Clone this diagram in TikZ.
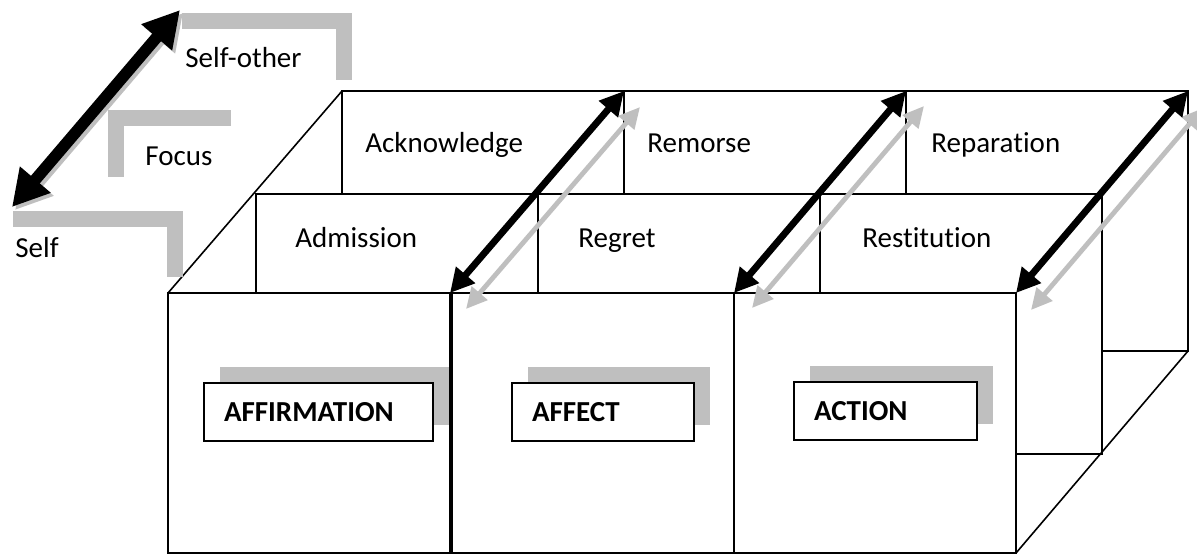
\documentclass[tikz,border=0pt]{standalone}
\usepackage{fontspec}
\setmainfont{Carlito}[Ligatures=NoCommon]
\usetikzlibrary{arrows.meta, shadows}

\definecolor{shadowtone}{RGB}{191,191,191}

\begin{document}
\begin{tikzpicture}[x=0.5pt,y=-0.5pt]
\tikzset{
cell/.style={draw, fill=white, line width=1pt, minimum width=141pt, minimum height=130pt, inner sep=0pt, outer sep=0pt, anchor=north west},
word/.style={anchor=base west, inner sep=0pt},
tag/.style={draw, fill=white, line width=1pt, anchor=west, inner xsep=10pt, minimum height=29pt, text width=#1, align=left, font=\fontsize{14.5}{17}\selectfont\bfseries, drop shadow={shadow xshift=8pt, shadow yshift=8pt, fill=shadowtone, opacity=1}},
link/.style={{Triangle[length=12pt,width=12pt]}-{Triangle[length=12pt,width=12pt]}, line width=3.4pt},
echo/.style={{Triangle[length=10.5pt,width=10pt]}-{Triangle[length=10.5pt,width=10pt]}, line width=2.4pt, shadowtone},
focusarrow/.style={{Triangle[length=18pt,width=19pt]}-{Triangle[length=18pt,width=19pt]}, line width=5.8pt},
bracket/.style={shadowtone, line width=8pt},
every node/.style={font=\fontsize{14.5}{17}\selectfont}
}
\useasboundingbox (0,0) rectangle (1197,554);

	% back row
	\node[cell] (b1) at (342,91) {};
	\node[cell] (b2) at (624,91) {};
	\node[cell] (b3) at (906,91) {};

	% middle row
	\node[cell] (m1) at (256,194) {};
	\node[cell] (m2) at (538,194) {};
	\node[cell] (m3) at (820,194) {};

	% front row
	\node[cell] (f1) at (168,293) {};
	\node[cell] (f2) at (452,293) {};
	\node[cell] (f3) at (734,293) {};

	\draw[line width=0.8pt] (f1.north west) -- (b1.north west);
	\draw[line width=0.8pt] (f3.south east) -- (b3.south east);

	\node[word] (ack) at (365,152) {Acknowledge};
	\node[word] (rem) at (647,152) {Remorse};
	\node[word] (rep) at (931,152) {Reparat\kern0pt ion};
	\node[word] (adm) at (295,247) {Admission};
	\node[word] (reg) at (578,247) {Regret};
	\node[word] (res) at (862,247) {Rest\kern0pt itut\kern0pt ion};

	% depth arrows
	\draw[echo] ([shift={(16,16)}]f1.north east) -- ([shift={(16,16)}]b1.north east);
	\draw[echo] ([shift={(18,15)}]f2.north east) -- ([shift={(18,15)}]b2.north east);
	\draw[echo] ([shift={(15,17)}]f3.north east) -- ([shift={(15,17)}]b3.north east);
	\draw[link] (f1.north east) -- (b1.north east);
	\draw[link] (f2.north east) -- (b2.north east);
	\draw[link] (f3.north east) -- (b3.north east);

	\node[tag=94.5pt] (affirm) at (203,412) {AFFIRMATION};
	\node[tag=71pt] (affect) at (511,412) {AFFECT};
	\node[tag=71.5pt] (action) at (793,411) {ACTION};

	% focus key
	\draw[bracket] (182,21) -- (344,21) -- (344,80);
	\draw[bracket] (231,118) -- (116,118) -- (116,177);
	\draw[bracket] (13,219) -- (175,219) -- (175,277);

	\coordinate (selfend) at (12,207);
	\coordinate (otherend) at (180,10);
	\draw[focusarrow, shadowtone] ([shift={(3,3)}]selfend) -- ([shift={(3,3)}]otherend);
	\draw[focusarrow] (selfend) -- (otherend);

	\node[word] (other) at (185,67) {Self-other};
	\node[word] (focus) at (145,165) {Focus};
	\node[word] (self) at (15,257) {Self};

\end{tikzpicture}
\end{document}
